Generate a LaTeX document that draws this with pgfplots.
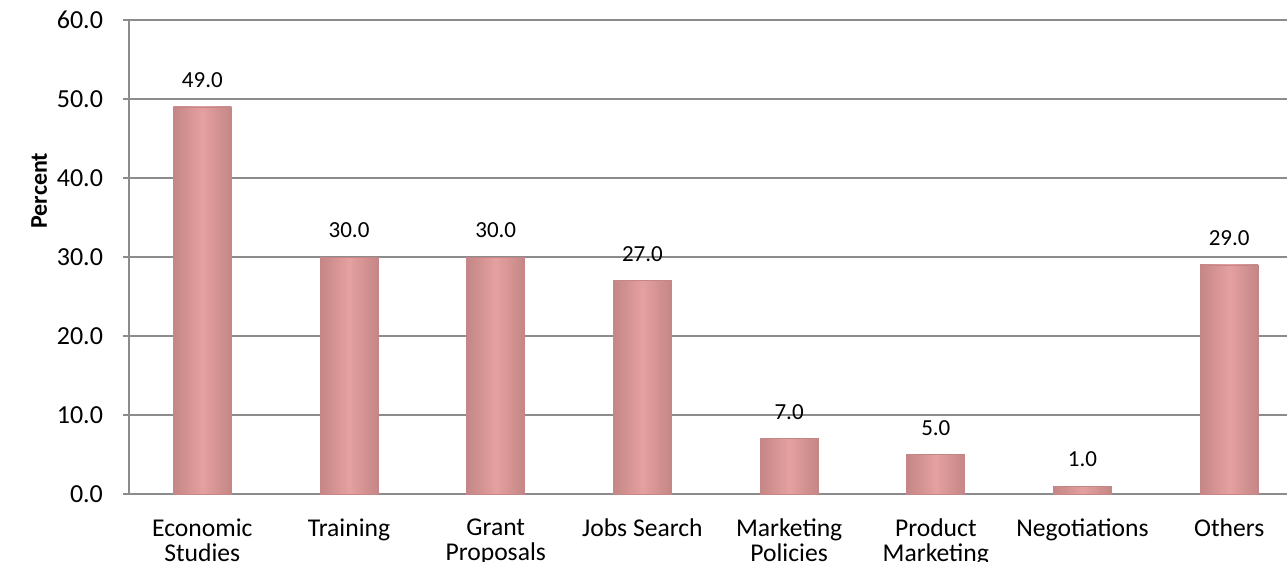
\documentclass[border=0pt]{standalone}
\usepackage{pgfplots}
\pgfplotsset{compat=1.18}
\usepackage{fontspec}
\setmainfont{Carlito}
\definecolor{barmid}{HTML}{E5A0A0}
\definecolor{baredge}{HTML}{C48686}
\definecolor{gridc}{HTML}{8C8C8C}
\pgfplotsset{pinkbar/.style={ybar, bar shift=0pt, bar width=29pt, draw=baredge, line width=0.4pt, left color=baredge, right color=baredge, middle color=barmid,
  nodes near coords,
  nodes near coords style={font=\fontsize{11.5}{11.5}\selectfont, /pgf/number format/fixed, /pgf/number format/fixed zerofill, /pgf/number format/precision=1, yshift=6pt, text=black}}}
\begin{document}
\begin{tikzpicture}
\begin{axis}[
  scale only axis,
  width=579pt, height=237pt,
  at={(0,0)}, anchor=south west,
  xmin=-0.5, xmax=7.394,
  ymin=0, ymax=60,
  ytick={0,10,...,60},
  yticklabel style={/pgf/number format/fixed, /pgf/number format/fixed zerofill, /pgf/number format/precision=1, font=\fontsize{13}{13}\selectfont, xshift=-6.5pt},
  /pgf/number format/assume math mode=true,
  xtick={0,...,7},
  xticklabels={{Economic\\Studies},{Training},{Grant\\Proposals},{Jobs Search},{Marketing\\Policies},{Product\\Marketing},{Negotiations},{Others}},
  xticklabel style={align=center, anchor=north, font=\fontsize{12.8}{12.5}\selectfont, yshift=-6pt},
  major x tick style={draw=none},
  ymajorgrids,
  grid style={gridc, line width=0.75pt},
  axis x line*=bottom,
  axis y line*=left,
  axis line style={gridc, line width=0.75pt, -},
  y tick style={gridc, line width=0.75pt},
  tick align=outside,
  major tick length=3pt,
  ylabel={\bfseries Percent},
  ylabel style={font=\fontsize{12}{12}\selectfont, at={(ticklabel cs:0.64)}, yshift=-2pt},
  clip=false,
]
\addplot[pinkbar] coordinates {(0,49)};
\addplot[pinkbar] coordinates {(1,30)};
\addplot[pinkbar] coordinates {(2,30)};
\addplot[pinkbar] coordinates {(3,27)};
\addplot[pinkbar] coordinates {(4,7)};
\addplot[pinkbar] coordinates {(5,5)};
\addplot[pinkbar] coordinates {(6,1)};
\addplot[pinkbar] coordinates {(7,29)};
\end{axis}
\pgfresetboundingbox
\useasboundingbox (-64.5pt,-34pt) rectangle (579pt,247pt);
\end{tikzpicture}
\end{document}
